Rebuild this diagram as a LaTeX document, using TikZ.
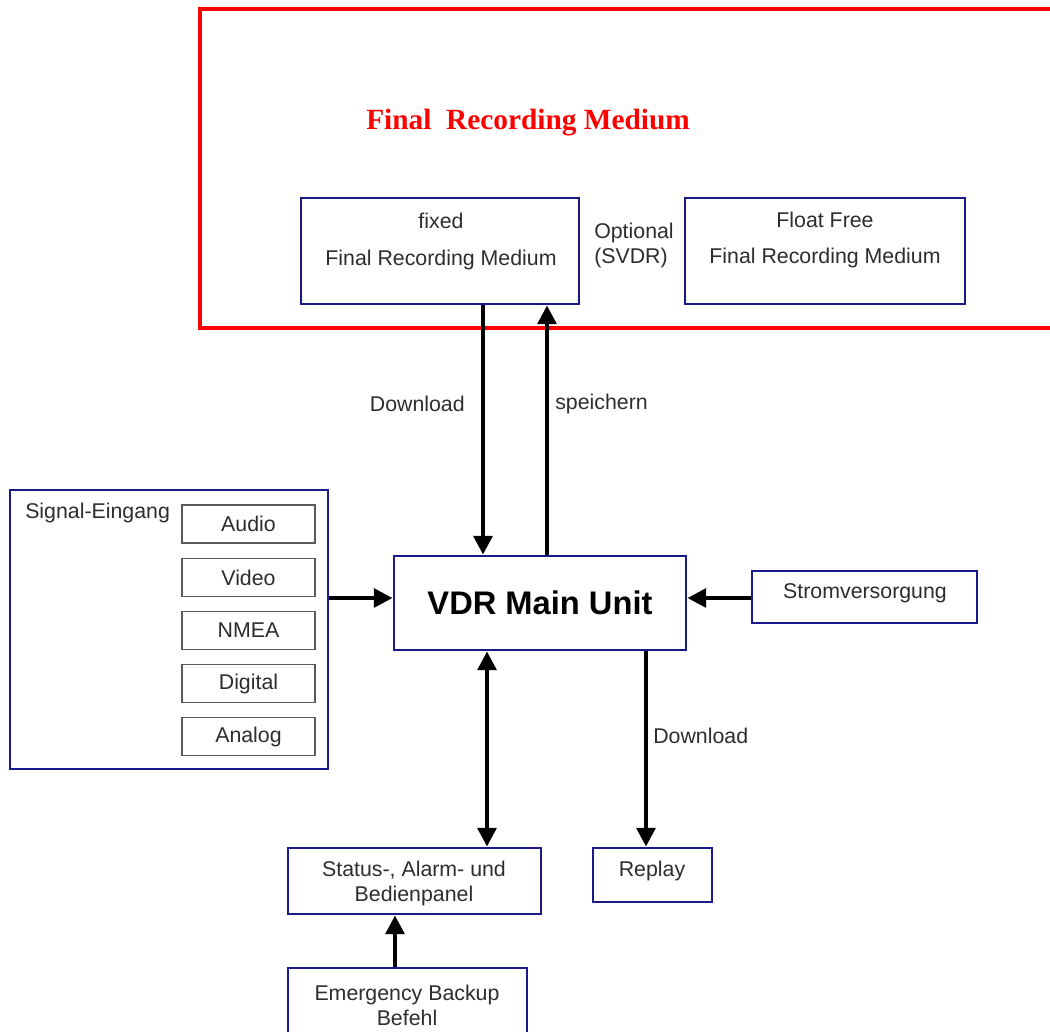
\documentclass[tikz,border=0pt]{standalone}
\usepackage{fontspec}
\setmainfont{Liberation Sans}
\newfontfamily\titlefont{Liberation Serif}
\usetikzlibrary{arrows.meta}
\definecolor{navy}{RGB}{25,25,140}
\definecolor{framered}{RGB}{255,0,0}
\definecolor{txt}{RGB}{45,45,45}
\definecolor{subgray}{RGB}{90,90,90}
\begin{document}
\begin{tikzpicture}[x=0.75pt,y=-0.75pt,
  box/.style={draw=navy, line width=2.2pt, fill=white, inner sep=0pt},
  subbox/.style={draw=subgray, line width=1.1pt, inner sep=0pt, minimum width=133*0.75pt, minimum height=38*0.75pt,
    text=txt, font=\fontsize{16}{18.75}\selectfont},
  lbl/.style={text=txt, font=\fontsize{16}{18.75}\selectfont, inner sep=0pt, align=center},
  arr/.style={line width=3pt, -{Triangle[length=14pt,width=14pt]}},
  arrboth/.style={line width=3pt, {Triangle[length=14pt,width=14pt]}-{Triangle[length=14pt,width=14pt]}}
]
\useasboundingbox (0,0) rectangle (1050,1032);
\clip (0,0) rectangle (1050,1032);

% red frame
\draw[framered, line width=3pt] (1070,9) -- (200,9) -- (200,328) -- (1070,328);
\node[text=framered, font=\titlefont\bfseries\fontsize{22}{26}\selectfont, inner sep=0pt] (title) at (528,123) {Final\ \ Recording Medium};

% top boxes
\node[box, minimum width=278*0.75pt, minimum height=106*0.75pt] (fixed) at (440,251) {};
\node[lbl] (fixedA) at (441,221) {fixed};
\node[lbl] (fixedB) at (441,260) {Final Recording Medium};
\node[lbl, align=left] (opt) at (634,245) {Optional\\(SVDR)};
\node[box, minimum width=280*0.75pt, minimum height=106*0.75pt] (float) at (825,251) {};
\node[lbl] (floatA) at (825,220) {Float Free};
\node[lbl] (floatB) at (825,258) {Final Recording Medium};

% main unit
\node[box, minimum width=292*0.75pt, minimum height=94*0.75pt, font=\bfseries\fontsize{24.5}{28}\selectfont] (vdr) at (540,603) {VDR Main Unit};

% signal input
\node[box, minimum width=318*0.75pt, minimum height=279*0.75pt] (signal) at (169,629.5) {};
\node[lbl, anchor=west] (siglbl) at (25,513) {Signal-Eingang};
\node[subbox] (audio) at (248.5,524) {Audio};
\node[subbox] (video) at (248.5,577.5) {Video};
\node[subbox] (nmea) at (248.5,630.5) {NMEA};
\node[subbox] (digital) at (248.5,683.5) {Digital};
\node[subbox] (analog) at (248.5,736.5) {Analog};

% power
\node[box, minimum width=225*0.75pt, minimum height=52*0.75pt] (strom) at (864.5,597) {};
\node[lbl] (stromlbl) at (865,593) {Stromversorgung};

% bottom boxes
\node[box, minimum width=253*0.75pt, minimum height=66*0.75pt] (status) at (414.5,881) {};
\node[lbl] (statuslbl) at (414,883) {Status-, Alarm- und\\Bedienpanel};
\node[box, minimum width=119*0.75pt, minimum height=54*0.75pt] (replay) at (652.5,875) {};
\node[lbl] (replaylbl) at (652,871) {Replay};
\node[box, minimum width=239*0.75pt, minimum height=90*0.75pt] (emerg) at (407.5,1013) {};
\node[lbl] (emerglbl) at (407,1005) {Emergency Backup\\Befehl};

% helper coordinates
\coordinate (xdl) at (483,0);
\coordinate (xsp) at (547,0);
\coordinate (xst) at (487,0);
\coordinate (xrp) at (646,0);
\coordinate (xem) at (395,0);
\coordinate (ysig) at (0,598);

% connectors
\draw[arr] (fixed.south -| xdl) -- (vdr.north -| xdl);
\draw[arr] (vdr.north -| xsp) -- (fixed.south -| xsp);
\node[lbl, anchor=east] (dl1) at (465,404) {Download};
\node[lbl, anchor=west] (sp) at (555,404) {speichern};
\draw[arr] (signal.east |- ysig) -- (vdr.west |- ysig);
\draw[arr] (strom.west |- ysig) -- (vdr.east |- ysig);
\draw[arrboth] (vdr.south -| xst) -- (status.north -| xst);
\draw[arr] (vdr.south -| xrp) -- (replay.north -| xrp);
\node[lbl, anchor=west] (dl2) at (653,736) {Download};
\draw[arr] (emerg.north -| xem) -- (status.south -| xem);
\end{tikzpicture}
\end{document}
